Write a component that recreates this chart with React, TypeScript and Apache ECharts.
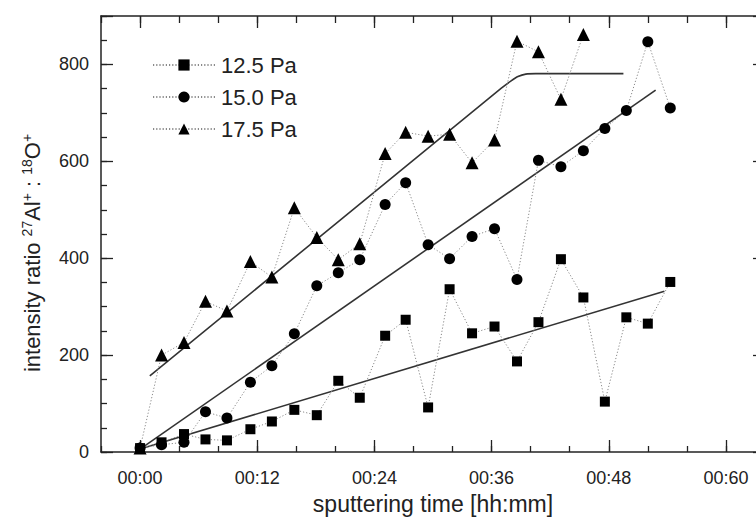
import React, { useEffect, useRef } from 'react';
import * as echarts from 'echarts';

// sputtering time in minutes
const timeMin = [0, 2.2, 4.5, 6.7, 8.9, 11.3, 13.5, 15.8, 18.1, 20.3, 22.5, 25.1, 27.2, 29.5, 31.7, 34.0, 36.3, 38.6, 40.8, 43.1, 45.4, 47.6, 49.8, 52.0, 54.3];
const pa125 = [8, 20, 37, 26, 24, 47, 63, 87, 76, 147, 112, 240, 273, 92, 336, 245, 259, 187, 268, 398, 319, 104, 278, 265, 351];
const pa150 = [8, 15, 20, 83, 70, 144, 178, 244, 343, 370, 397, 511, 556, 428, 399, 445, 461, 356, 602, 589, 622, 668, 705, 847, 710];
const pa175 = [8, 200, 226, 311, 291, 393, 361, 504, 443, 397, 430, 616, 660, 652, 656, 597, 644, 848, 826, 728, 862];

// fitted trend lines [time, ratio]
const fit125 = [[0, 6], [53.7, 332]];
const fit150 = [[0, 6], [52.8, 747]];
const fit175 = [[1, 157], [37, 751], [38, 766], [38.7, 775], [39.5, 780], [40.5, 781], [49.5, 781]];

const seriesNames = ['12.5 Pa', '15.0 Pa', '17.5 Pa'];
const xMajorTicks = [0, 12, 24, 36, 48, 60];

const FONT = '"Liberation Sans", Arial, Helvetica, sans-serif';
const INK = '#222';

function pair(values: number[]) {
  return values.map((v, i) => [timeMin[i], v]);
}

function fmtTime(v: number) {
  if (v < 0 || v % 12 !== 0) return '';
  return '00:' + (v < 10 ? '0' + v : String(v));
}

export default function App() {
  const ref = useRef<HTMLDivElement>(null);
  useEffect(() => {
    const chart = echarts.init(ref.current!, null, { renderer: 'svg' });
    const lineStyle = { color: INK, width: 1.5 };
    const tickStyle = { color: INK, width: 1.3 };
    const baseX = { type: 'value', min: -4, max: 64, splitLine: { show: false } };
    const baseY = { type: 'value', min: 0, max: 900, splitLine: { show: false } };
    const dataSeries = (name: string, values: number[], symbol: string, size: number) => ({
      name,
      type: 'line',
      data: pair(values),
      symbol,
      symbolSize: size,
      showSymbol: true,
      itemStyle: { color: '#000' },
      lineStyle: { color: '#8a8a8a', width: 1, type: [1.2, 2] },
      z: 3,
    });
    const fitSeries = (name: string, data: number[][]) => ({
      name,
      type: 'line',
      data,
      symbol: 'none',
      smooth: 0.2,
      lineStyle: { color: '#333', width: 1.6 },
      z: 2,
    });
    chart.setOption({
      animation: false,
      backgroundColor: '#fff',
      grid: { left: 101, right: 15, top: 16, bottom: 65, containLabel: false, outerBoundsMode: 'none' },
      legend: {
        data: seriesNames,
        orient: 'vertical',
        left: 147,
        top: 49,
        itemWidth: 62,
        itemHeight: 14,
        itemGap: 10,
        textStyle: { fontSize: 22, color: INK, fontFamily: FONT, padding: [0, 0, 0, 1] },
      },
      xAxis: [
        {
          ...baseX,
          position: 'bottom',
          interval: 4,
          axisLine: { show: true, onZero: false, lineStyle },
          axisTick: { show: true, inside: true, length: 6, lineStyle: tickStyle },
          axisLabel: { margin: 17, fontSize: 18, color: INK, fontFamily: FONT, formatter: fmtTime },
          name: 'sputtering time [hh:mm]',
          nameLocation: 'middle',
          nameGap: 40,
          nameTextStyle: { fontSize: 23, color: INK, fontFamily: FONT },
        },
        {
          ...baseX,
          position: 'bottom',
          axisLine: { show: false, onZero: false },
          axisTick: { show: true, inside: true, length: 12, customValues: xMajorTicks, lineStyle: tickStyle },
          axisLabel: { show: false },
        },
        {
          ...baseX,
          position: 'top',
          interval: 4,
          axisLine: { show: true, onZero: false, lineStyle },
          axisTick: { show: true, inside: true, length: 7, lineStyle: tickStyle },
          axisLabel: { show: false },
        },
        {
          ...baseX,
          position: 'top',
          axisLine: { show: false, onZero: false },
          axisTick: { show: true, inside: true, length: 12, customValues: xMajorTicks, lineStyle: tickStyle },
          axisLabel: { show: false },
        },
      ],
      yAxis: [
        {
          ...baseY,
          position: 'left',
          interval: 50,
          axisLine: { show: true, onZero: false, lineStyle },
          axisTick: { show: true, inside: true, length: 6, lineStyle: tickStyle },
          axisLabel: {
            margin: 12,
            fontSize: 18,
            color: INK,
            fontFamily: FONT,
            formatter: (v: number) => (v % 200 === 0 && v <= 800 ? String(v) : ''),
          },
        },
        {
          ...baseY,
          position: 'left',
          interval: 200,
          axisLine: { show: false, onZero: false },
          axisTick: { show: true, inside: true, length: 12, lineStyle: tickStyle },
          axisLabel: { show: false },
        },
        {
          ...baseY,
          position: 'right',
          interval: 200,
          axisLine: { show: true, onZero: false, lineStyle },
          axisTick: { show: true, inside: true, length: 12, lineStyle: tickStyle },
          axisLabel: { show: false },
        },
        {
          ...baseY,
          position: 'right',
          interval: 50,
          axisLine: { show: false, onZero: false },
          axisTick: { show: true, inside: true, length: 6, lineStyle: tickStyle },
          axisLabel: { show: false },
        },
      ],
      graphic: [
        {
          type: 'text',
          x: 32,
          y: 253,
          rotation: Math.PI / 2,
          style: {
            text: 'intensity ratio {s|27}Al{s|+} : {s|18}O{s|+}',
            fontSize: 22,
            lineHeight: 24,
            fontFamily: FONT,
            fill: INK,
            align: 'center',
            verticalAlign: 'middle',
            rich: {
              s: { fontSize: 14, lineHeight: 24, verticalAlign: 'top', fontFamily: FONT, fill: INK },
            },
          },
        },
      ],
      series: [
        fitSeries('fit 12.5', fit125),
        fitSeries('fit 15.0', fit150),
        fitSeries('fit 17.5', fit175),
        dataSeries(seriesNames[1], pa150, 'circle', 11),
        dataSeries(seriesNames[0], pa125, 'rect', 10),
        dataSeries(seriesNames[2], pa175, 'triangle', 13),
      ],
    });
    return () => chart.dispose();
  }, []);
  return (
    <div style={{ position: 'fixed', left: 0, top: 0, width: 756, height: 517, overflow: 'hidden', background: '#fff' }}>
      <div ref={ref} style={{ width: 780, height: 517 }} />
    </div>
  );
}
